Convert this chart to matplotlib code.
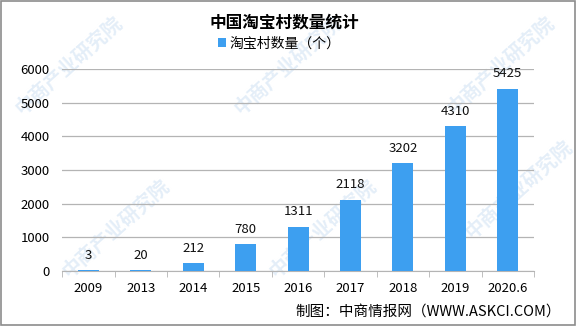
import matplotlib.pyplot as plt
import numpy as np

plt.rcParams['font.family'] = ['Noto Sans CJK SC', 'DejaVu Sans']

# data
years = ['2009', '2013', '2014', '2015', '2016', '2017', '2018', '2019', '2020.6']
counts = [3, 20, 212, 780, 1311, 2118, 3202, 4310, 5425]
yticks = [0, 1000, 2000, 3000, 4000, 5000, 6000]

bar_color = '#3d9ff0'
grid_color = '#b4b4b4'

fig = plt.figure(figsize=(5.76, 3.26), dpi=100, facecolor='white')
ax = fig.add_axes([0.108, 0.170, 0.819, 0.617])

# faint watermarks
for wx, wy in [(0.12, 0.80), (0.50, 0.80), (0.87, 0.80),
               (0.20, 0.30), (0.56, 0.30), (0.90, 0.42)]:
    fig.text(wx, wy, '中商产业研究院', color='#e4eef8',
             fontsize=14, fontweight='bold', rotation=42, ha='center', va='center',
             zorder=-1)

x = np.arange(len(years))
bars = ax.bar(x, counts, width=0.40, color=bar_color, zorder=3)
for xi, v in zip(x, counts):
    ax.annotate(str(v), (xi, v), xytext=(0, 6), textcoords='offset points',
                ha='center', va='bottom', fontsize=9.5, color='#111111')

ax.set_xlim(-0.5, len(years) - 0.5)
ax.set_ylim(0, 6000)
ax.set_yticks(yticks)
ax.set_yticklabels([str(t) for t in yticks], fontsize=9.5)
ax.set_xticks(x)
ax.set_xticklabels(years, fontsize=9.5)
ax.set_xticks(np.arange(-0.5, len(years)), minor=True)
ax.tick_params(axis='x', which='major', length=0, pad=8)
ax.tick_params(axis='x', which='minor', length=4, color=grid_color)
ax.tick_params(axis='y', length=0, pad=9)
ax.set_facecolor('none')
ax.grid(axis='y', color=grid_color, linewidth=0.9, zorder=0)
for s in ['top', 'right', 'left']:
    ax.spines[s].set_visible(False)
ax.spines['bottom'].set_color(grid_color)

fig.text(0.493, 0.930, '中国淘宝村数量统计', ha='center', va='center',
         fontsize=12, fontweight='bold')
leg = ax.legend([bars], ['淘宝村数量（个）'], loc='center', bbox_to_anchor=(0.46, 1.13),
                frameon=False, fontsize=10, handlelength=0.6, handleheight=0.6,
                handletextpad=0.2)
fig.text(0.973, 0.045, '制图：中商情报网（WWW.ASKCI.COM）', ha='right', va='center',
         fontsize=10.5)

# border
fig.patches.append(plt.Rectangle((0.001, 0.002), 0.997, 0.995, transform=fig.transFigure,
                                 fill=False, edgecolor='#8c8c8c', linewidth=1.2))

fig.savefig('out.png', dpi=100)
